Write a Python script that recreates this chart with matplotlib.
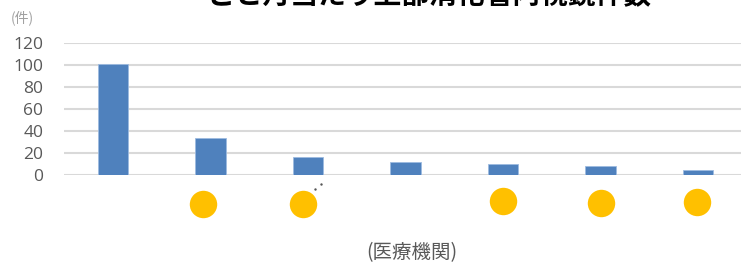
import matplotlib.pyplot as plt
import numpy as np

plt.rcParams['font.family'] = ['Noto Sans CJK JP', 'DejaVu Sans']

# bar data (monthly cases per institution)
institutions = ['A', 'B', 'C', 'D', 'E', 'F', 'G']
cases = [101, 34, 16, 12, 10, 8, 5]
# yellow markers drawn under some of the bars
marker_x = [0.92, 1.95, 4.0, 5.0, 5.99]
marker_y = [-26.4, -26.7, -23.7, -25.5, -24.6]
# tiny specks next to the third marker
speck_x = [2.07, 2.13]
speck_y = [-12.8, -8.3]
yticks = [0, 20, 40, 60, 80, 100, 120]

fig = plt.figure(figsize=(7.41, 2.65), dpi=100)
ax = fig.add_axes([64.25 / 741, 90 / 265, 1 - 64.25 / 741, 131.7 / 265])

x = np.arange(len(institutions))
ax.bar(x, cases, width=0.315, color='#4f81bd', edgecolor='#9dbbe0', linewidth=0.6, zorder=3)

ax.scatter(marker_x, marker_y, s=390, color='#ffc000', clip_on=False, zorder=4, linewidths=0)
ax.scatter(speck_x, speck_y, s=3, color='#555555', clip_on=False, zorder=4, linewidths=0)

ax.set_xlim(-0.5, 6.44)
ax.set_ylim(0, 120)
ax.set_yticks(yticks)
ax.set_yticklabels([str(v) for v in yticks], fontsize=12.5, color='#595959', family='Open Sans')
ax.set_xticks([])
ax.grid(axis='y', color='#d9d9d9', linewidth=1.5, zorder=0)
ax.tick_params(axis='y', length=0, pad=15)
for s in ax.spines.values():
    s.set_visible(False)

fig.text(11 / 741, 1 - 18 / 265, '(件)', fontsize=10, color='#a0a0a0', ha='left', va='center')
fig.text(412 / 741, 1 - 253 / 265, '(医療機関)', fontsize=14, color='#595959', ha='center', va='center')
# title sits mostly above the top edge, as in the reference
fig.text(429 / 741, 1 - 3 / 265, 'ごと月当たり上部消化管内視鏡件数', fontsize=20,
         fontweight='bold', color='black', ha='center', va='baseline')

fig.savefig('out.png', dpi=100)
